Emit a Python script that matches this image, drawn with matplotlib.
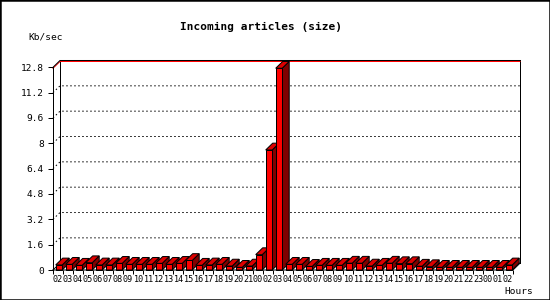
import matplotlib
matplotlib.use('Agg')
import matplotlib.pyplot as plt
from matplotlib.patches import Polygon, Rectangle
from matplotlib.transforms import ScaledTranslation
import numpy as np

plt.rcParams['font.family'] = ['DejaVu Sans Mono']

# hourly labels, as printed under the bars
HOURS = ['02', '03', '04', '05', '06', '07', '08', '09', '10', '11',
         '12', '13', '14', '15', '16', '17', '18', '19', '20', '21',
         '00', '02', '03', '04', '05', '06', '07', '08', '09', '10',
         '11', '12', '13', '14', '15', '16', '17', '18', '19', '20',
         '21', '22', '23', '00', '01', '02']
# incoming article volume, Kb/sec
KBSEC = [0.32, 0.36, 0.30, 0.46, 0.32, 0.32, 0.42, 0.36, 0.36, 0.36,
         0.42, 0.36, 0.42, 0.60, 0.30, 0.32, 0.36, 0.25, 0.17, 0.25,
         0.97, 7.58, 12.74, 0.36, 0.36, 0.23, 0.30, 0.30, 0.30, 0.43,
         0.43, 0.25, 0.30, 0.43, 0.40, 0.40, 0.24, 0.21, 0.17, 0.17,
         0.17, 0.17, 0.17, 0.17, 0.17, 0.32]
Y_TICKS = [0, 1.6, 3.2, 4.8, 6.4, 8, 9.6, 11.2, 12.8]
Y_LABELS = ['0', '1.6', '3.2', '4.8', '6.4', '8', '9.6', '11.2', '12.8']

N = len(KBSEC)
YMAX = Y_TICKS[-1]
DX, DY = 0.7, 0.43          # 3d depth (slot units / Kb/sec units)
BAR_OFF, BAR_W = 0.27, 0.65
LW = 0.72                   # 1 px

FRONT = '#ff0000'
TOP = '#dd0000'
SIDE = '#800000'

fig = plt.figure(figsize=(5.5, 3), dpi=100)
ax = fig.add_axes([53 / 550, 30 / 300, 460 / 550, 202.7 / 300])
ax.set_xlim(0, N)
ax.set_ylim(0, YMAX)
for s in ax.spines.values():
    s.set_visible(False)

# back wall + floor
ax.plot([DX, DX], [DY, YMAX + DY], color='black', lw=LW, clip_on=False, zorder=1)
ax.plot([N + DX, N + DX], [DY, YMAX + DY], color='black', lw=LW, clip_on=False, zorder=1)
ax.plot([0, DX, N + DX], [0, DY, DY], color='black', lw=LW, clip_on=False, zorder=1)

# dotted grid on side + back wall
for v in Y_TICKS[1:-1]:
    ax.plot([0, DX, N + DX], [v, v + DY, v + DY], color='black', lw=LW,
            ls=(0, (1.5, 2.5)), clip_on=False, zorder=1)

# top edge: red max line under black frame
down = ax.transData + ScaledTranslation(0, -1 / 100, fig.dpi_scale_trans)
ax.plot([0, DX, N + DX], [YMAX, YMAX + DY, YMAX + DY], color='red', lw=LW,
        clip_on=False, zorder=1, transform=down)
ax.plot([0, DX, N + DX], [YMAX, YMAX + DY, YMAX + DY], color='black', lw=LW,
        clip_on=False, zorder=1)

# 3d bars
bars = ax.bar(np.arange(N) + BAR_OFF, KBSEC, BAR_W, align='edge',
              color=FRONT, edgecolor='black', linewidth=LW, clip_on=False)
for i, (rect, v) in enumerate(zip(bars, KBSEC)):
    x0 = i + BAR_OFF
    x1 = x0 + BAR_W
    side = Polygon([(x1, 0), (x1 + DX, DY), (x1 + DX, v + DY), (x1, v)],
                   closed=True, fc=SIDE, ec='black', lw=LW, clip_on=False,
                   zorder=3 + 3 * i)
    top = Polygon([(x0, v), (x1, v), (x1 + DX, v + DY), (x0 + DX, v + DY)],
                  closed=True, fc=TOP, ec='black', lw=LW, clip_on=False,
                  zorder=4 + 3 * i)
    ax.add_patch(side)
    ax.add_patch(top)
    rect.set_zorder(5 + 3 * i)

# front axes
ax.plot([0, 0], [0, YMAX], color='black', lw=LW, clip_on=False, zorder=500)
ax.plot([0, N, N + DX], [0, 0, DY], color='black', lw=LW, clip_on=False, zorder=500)

ax.set_yticks(Y_TICKS, Y_LABELS)
ax.tick_params(axis='y', direction='out', length=3.6, width=LW, pad=3,
               labelsize=6.8)
ax.set_xticks(np.arange(N + 1), [''] * (N + 1))
ax.set_xticks(np.arange(N) + 0.5, HOURS, minor=True)
ax.tick_params(axis='x', which='major', direction='out', length=3, width=LW)
ax.tick_params(axis='x', which='minor', length=0, pad=3.5, labelsize=6.1)

fig.text(261 / 550, 1 - 27 / 300, 'Incoming articles (size)', ha='center',
         va='center', fontsize=8, fontweight='bold')
fig.text(28 / 550, 1 - 37.5 / 300, 'Kb/sec', ha='left', va='center', fontsize=6.8)
fig.text(519 / 550, 1 - 292 / 300, 'Hours', ha='center', va='center', fontsize=6.8)

fig.add_artist(Rectangle((0, 0), 1, 1, transform=fig.transFigure, fill=False,
                         ec='black', lw=1.8))

fig.savefig('out.png', dpi=100)
